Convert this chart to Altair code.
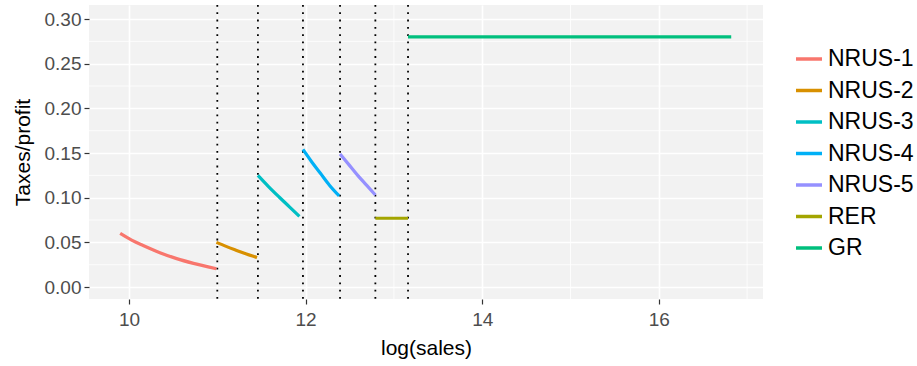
import altair as alt
import pandas as pd

# Tax regimes, in legend order, with their colours
regimes = ["NRUS-1", "NRUS-2", "NRUS-3", "NRUS-4", "NRUS-5", "RER", "GR"]
colors = ["#F8766D", "#D89000", "#00BFC4", "#00B0F6", "#9590FF", "#A3A500", "#00BF7D"]

# log(sales) and taxes/profit along each regime's segment
nrus1_x = [9.90, 10.03, 10.16, 10.35, 10.54, 10.73, 10.99]
nrus1_y = [0.060, 0.0525, 0.0465, 0.0385, 0.0318, 0.0265, 0.0205]
nrus2_x = [10.99, 11.10, 11.22, 11.33, 11.45]
nrus2_y = [0.050, 0.0455, 0.041, 0.037, 0.033]
nrus3_x = [11.46, 11.58, 11.70, 11.82, 11.93]
nrus3_y = [0.125, 0.1125, 0.1008, 0.0895, 0.079]
nrus4_x = [11.97, 12.07, 12.17, 12.27, 12.38]
nrus4_y = [0.154, 0.140, 0.127, 0.114, 0.102]
nrus5_x = [12.39, 12.49, 12.59, 12.69, 12.79]
nrus5_y = [0.149, 0.137, 0.125, 0.114, 0.103]
rer_x = [12.79, 13.16]
rer_y = [0.077, 0.077]
gr_x = [13.16, 16.82]
gr_y = [0.280, 0.280]

# Regime thresholds (dotted lines)
thresholds = [11.00, 11.46, 11.97, 12.39, 12.79, 13.16]

# Axis ticks and minor grid positions
x_ticks = [10, 12, 14, 16]
y_ticks = [0.00, 0.05, 0.10, 0.15, 0.20, 0.25, 0.30]
x_minor = [11, 13, 15, 17]
y_minor = [0.025, 0.075, 0.125, 0.175, 0.225, 0.275]

series = {
    "NRUS-1": (nrus1_x, nrus1_y),
    "NRUS-2": (nrus2_x, nrus2_y),
    "NRUS-3": (nrus3_x, nrus3_y),
    "NRUS-4": (nrus4_x, nrus4_y),
    "NRUS-5": (nrus5_x, nrus5_y),
    "RER": (rer_x, rer_y),
    "GR": (gr_x, gr_y),
}
rows = []
for name, (xs_, ys_) in series.items():
    for i, (xv, yv) in enumerate(zip(xs_, ys_)):
        rows.append({"regime": name, "x": xv, "y": yv, "i": i})
df = pd.DataFrame(rows)

x_dom = [9.547, 17.18]
y_dom = [-0.0134, 0.3157]
xs = alt.Scale(domain=x_dom, nice=False, zero=False)
ys = alt.Scale(domain=y_dom, nice=False, zero=False)

minor_x = alt.Chart(pd.DataFrame({"x": x_minor})).mark_rule(
    color="white", strokeWidth=0.8
).encode(x=alt.X("x:Q", scale=xs))
minor_y = alt.Chart(pd.DataFrame({"y": y_minor})).mark_rule(
    color="white", strokeWidth=0.8
).encode(y=alt.Y("y:Q", scale=ys))

vlines = alt.Chart(pd.DataFrame({"x": thresholds})).mark_rule(
    color="black", strokeWidth=1.8, strokeDash=[1.8, 5.5]
).encode(x=alt.X("x:Q", scale=xs))

lines = alt.Chart(df).mark_line(strokeWidth=3.2, interpolate="monotone").encode(
    x=alt.X(
        "x:Q",
        scale=xs,
        title="log(sales)",
        axis=alt.Axis(values=x_ticks, format="d"),
    ),
    y=alt.Y(
        "y:Q",
        scale=ys,
        title="Taxes/profit",
        axis=alt.Axis(values=y_ticks, format=".2f"),
    ),
    color=alt.Color(
        "regime:N",
        scale=alt.Scale(domain=regimes, range=colors),
        legend=alt.Legend(
            title=None,
            orient="none",
            legendX=705,
            legendY=39,
            symbolType="stroke",
            symbolSize=676,
            symbolStrokeWidth=3.5,
            labelFontSize=23,
            labelFont="Liberation Sans",
            labelColor="black",
            rowPadding=4.5,
            labelOffset=4,
        ),
    ),
    detail="regime:N",
    order="i:Q",
)

chart = (
    alt.layer(minor_x, minor_y, vlines, lines)
    .properties(
        width=674,
        height=294,
        autosize=alt.AutoSizeParams(type="none"),
        padding={"left": 89, "top": 5, "right": 154, "bottom": 67},
    )
    .configure_view(fill="#F2F2F2", stroke=None)
    .configure_axis(
        domain=False,
        grid=True,
        gridColor="white",
        gridWidth=1.6,
        tickColor="#333333",
        tickSize=5,
        tickWidth=1.2,
        labelFont="Liberation Sans",
        labelFontSize=19,
        labelColor="#4D4D4D",
        titleFont="Liberation Sans",
        titleFontSize=21,
        titleFontWeight="normal",
        titleColor="black",
    )
    .configure_axisX(labelPadding=6, titlePadding=8)
    .configure_axisY(labelPadding=3, titlePadding=11)
)

chart.save("out.html", embed_options={"renderer": "svg", "actions": False})
